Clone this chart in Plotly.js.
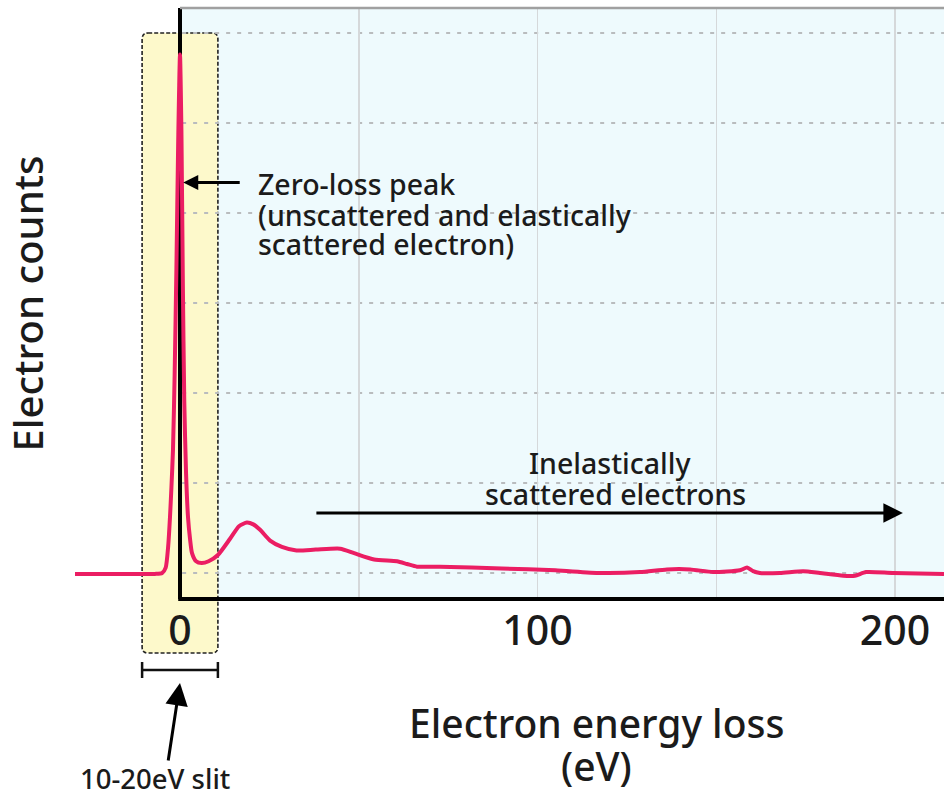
<!DOCTYPE html>
<html>
<head>
<meta charset="utf-8">
<script src="https://cdn.plot.ly/plotly-3.0.1.min.js"></script>
<style>html,body{margin:0;padding:0;background:#fff;}#chart{width:944px;height:798px;}</style>
</head>
<body>
<div id="chart"></div>
<script>
// ---- data ----
const energyLoss = [-29.4, -15, -7, -5, -4, -3.3, -2.8, -2.4, -1.96, -1.5, -1.0, -0.5, 0, 0.4, 0.8, 1.2, 1.7, 2.24, 2.8, 3.36, 4.5, 6.07, 8, 10.6, 14, 16.5, 18.7, 20.5, 22.4, 25.2, 28.5, 32.6, 38, 44.8, 48.7, 54.3, 60.7, 63.5, 66.3, 72.7, 90, 105, 117.5, 128.7, 136.2, 142.7, 149.1, 156.6, 158.6, 160.3, 162.2, 167.8, 174.3, 179, 185.5, 188.8, 191.9, 199.4, 213.7];
const electronCounts = [-0.01, -0.01, -0.01, 0.0, 0.06, 0.3, 0.62, 0.95, 1.37, 2.2, 3.4, 4.8, 5.76, 4.9, 3.2, 1.9, 1.1, 0.62, 0.38, 0.22, 0.13, 0.11, 0.13, 0.2, 0.38, 0.52, 0.56, 0.54, 0.48, 0.36, 0.29, 0.25, 0.26, 0.27, 0.22, 0.15, 0.13, 0.1, 0.07, 0.07, 0.05, 0.03, 0.0, 0.01, 0.04, 0.04, 0.01, 0.03, 0.06, 0.02, 0.0, 0.0, 0.02, 0.0, -0.03, -0.03, 0.01, 0.0, -0.01];
const xTickValues = [0, 100, 200];
const xTickLabels = ['0', '100', '200'];
const countGridLevels = [0, 1, 2, 3, 4, 5, 6];
const slitRange = [-10.6, 10.6];
const xTitleLines = ['Electron energy loss', '(eV)'];
const yTitle = 'Electron counts';
const zeroLossLines = ['Zero-loss peak', '(unscattered and elastically', 'scattered electron)'];
const inelasticLines = ['Inelastically', 'scattered electrons'];
const slitLabel = '10-20eV slit';

// ---- layout helpers ----
const X_RANGE = [-29.37, 213.7];
const Y_RANGE = [-0.289, 6.278];
const FONT = 'Noto Sans, Open Sans, sans-serif';
const TXT = '#1b1b1b';

const shapes = [];
// light-blue plotting region (x >= 0)
shapes.push({type: 'rect', xref: 'x', yref: 'paper', x0: 0, x1: X_RANGE[1], y0: 0, y1: 1,
  fillcolor: '#eefafd', line: {width: 0}, layer: 'below'});
// rounded yellow slit box
(function () {
  const x0 = slitRange[0], x1 = slitRange[1], yT = 0.9577, yB = -0.0914, rx = 1.7, ry = 0.0102;
  const p = `M ${x0 + rx},${yT} L ${x1 - rx},${yT} Q ${x1},${yT} ${x1},${yT - ry} L ${x1},${yB + ry} Q ${x1},${yB} ${x1 - rx},${yB} L ${x0 + rx},${yB} Q ${x0},${yB} ${x0},${yB + ry} L ${x0},${yT - ry} Q ${x0},${yT} ${x0 + rx},${yT} Z`;
  shapes.push({type: 'path', xref: 'x', yref: 'paper', path: p, fillcolor: '#fdf9cb',
    line: {color: '#222', width: 1.6, dash: '4px,2px'}, layer: 'below'});
})();
// horizontal dotted grid (only inside x >= 0 region)
countGridLevels.forEach(v => shapes.push({type: 'line', xref: 'x', yref: 'y', x0: 0.6, x1: X_RANGE[1], y0: v, y1: v,
  line: {color: '#b9bcbe', width: 2, dash: '4px,7px'}, layer: 'below'}));
// top frame line
shapes.push({type: 'line', xref: 'x', yref: 'paper', x0: 0, x1: X_RANGE[1], y0: 1, y1: 1,
  line: {color: '#a0a0a0', width: 2.5}});
// x axis black line
shapes.push({type: 'line', xref: 'x', yref: 'paper', x0: -0.5, x1: X_RANGE[1], y0: 0, y1: 0,
  line: {color: '#000', width: 4}});
// slit bracket
shapes.push({type: 'line', xref: 'x', yref: 'paper', x0: slitRange[0], x1: slitRange[1], y0: -0.1201, y1: -0.1201, line: {color: '#111', width: 2.5}});
shapes.push({type: 'line', xref: 'x', yref: 'paper', x0: slitRange[0], x1: slitRange[0], y0: -0.1066, y1: -0.1337, line: {color: '#111', width: 2.5}});
shapes.push({type: 'line', xref: 'x', yref: 'paper', x0: slitRange[1], x1: slitRange[1], y0: -0.1066, y1: -0.1337, line: {color: '#111', width: 2.5}});

const ann = [];
const tf = (s) => ({family: FONT, size: s, color: TXT, weight: 500});
// zero-loss text lines
const zlY = [4.32, 3.98, 3.66];
zeroLossLines.forEach((t, i) => ann.push({xref: 'x', yref: 'y', x: 21.3, y: zlY[i], text: t, showarrow: false,
  xanchor: 'left', yanchor: 'middle', font: tf(28.5)}));
// inelastic text lines
const ieX = [120.4, 121.8], ieY = [1.22, 0.88];
inelasticLines.forEach((t, i) => ann.push({xref: 'x', yref: 'y', x: ieX[i], y: ieY[i], text: t, showarrow: false,
  xanchor: 'center', yanchor: 'middle', font: tf(28.5)}));
// arrows
ann.push({xref: 'x', yref: 'y', x: 0.9, y: 4.34, text: '', showarrow: true, arrowhead: 2, arrowsize: 1, arrowwidth: 3,
  arrowcolor: '#000', ax: 58, ay: 0});
ann.push({xref: 'x', yref: 'y', x: 202.2, y: 0.667, text: '', showarrow: true, arrowhead: 2, arrowsize: 1.3, arrowwidth: 3,
  arrowcolor: '#000', ax: -588, ay: 0});
ann.push({xref: 'x', yref: 'paper', x: 0, y: -0.1421, text: '', showarrow: true, arrowhead: 2, arrowsize: 1.5, arrowwidth: 3,
  arrowcolor: '#000', ax: -12, ay: 79});
// slit label
ann.push({xref: 'x', yref: 'paper', x: -7, y: (599 - 778) / 591, text: slitLabel, showarrow: false,
  xanchor: 'center', yanchor: 'middle', font: tf(27.5)});
// x-axis title lines
const xtY = [(599 - 722) / 591, (599 - 765) / 591];
xTitleLines.forEach((t, i) => ann.push({xref: 'x', yref: 'paper', x: 116.6, y: xtY[i], text: t, showarrow: false,
  xanchor: 'center', yanchor: 'middle', font: tf(39)}));

const trace = {
  type: 'scatter', mode: 'lines', x: energyLoss, y: electronCounts,
  line: {color: '#eb1d63', width: 4, shape: 'spline', smoothing: 0.6},
  hoverinfo: 'skip', showlegend: false
};

const layout = {
  width: 944, height: 798,
  margin: {l: 75, r: 0, t: 8, b: 199, pad: 0},
  paper_bgcolor: '#ffffff', plot_bgcolor: '#ffffff',
  font: {family: FONT, color: TXT},
  showlegend: false,
  xaxis: {
    range: X_RANGE, fixedrange: true,
    tickmode: 'array', tickvals: xTickValues, ticktext: xTickLabels,
    ticks: '', ticklabelstandoff: 4, tickfont: {family: FONT, size: 41, color: TXT, weight: 500},
    showgrid: true, gridcolor: '#d5d8da', gridwidth: 1.5,
    minor: {dtick: 50, showgrid: true, gridcolor: '#d5d8da', gridwidth: 1.5, ticks: ''},
    zeroline: true, zerolinecolor: '#000', zerolinewidth: 3.5,
    showline: false
  },
  yaxis: {
    range: Y_RANGE, fixedrange: true,
    showticklabels: false, ticks: '', showgrid: false, zeroline: false, showline: false,
    title: {text: yTitle, font: {family: FONT, size: 40, color: TXT, weight: 500}, standoff: 20}
  },
  shapes: shapes,
  annotations: ann
};

Plotly.newPlot('chart', [trace], layout, {displayModeBar: false, staticPlot: true});
</script>
</body>
</html>
